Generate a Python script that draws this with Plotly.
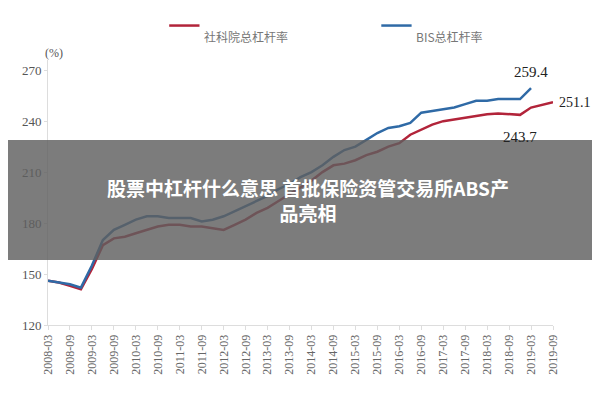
import plotly.graph_objects as go

dates_red = [f"{y}-{m:02d}" for y in range(2008, 2020) for m in (3, 6, 9, 12)][:47]
dates_blue = dates_red[:45]

red = [146, 145, 143, 141,
       153, 167, 171, 172,
       174, 176, 178, 179,
       179, 178, 178, 177,
       176, 179, 182, 186,
       189, 193, 197, 201,
       205, 210, 214, 215,
       217, 220, 222, 225,
       227, 232, 235, 238,
       240, 241, 242, 243,
       244, 244.5, 244, 243.7,
       248, 249.5, 251.1]
blue = [146, 145, 144, 142,
        155, 170, 176, 179,
        182, 184, 184, 183,
        183, 183, 181, 182,
        184, 187, 190, 193,
        196, 200, 203, 207,
        210, 214, 219, 223,
        225, 229, 233, 236,
        237, 239, 245, 246,
        247, 248, 250, 252,
        252, 253, 253, 253,
        259.4]
tick_labels = [f"{y}-{m:02d}" for y in range(2008, 2020) for m in (3, 9)]
names = ["社科院总杠杆率", "BIS总杠杆率"]
colors = ["#b2243a", "#2f6aa6"]

fig = go.Figure()
fig.add_trace(go.Scatter(x=dates_red, y=red, mode="lines", name=names[0],
                         line=dict(color=colors[0], width=2.5)))
fig.add_trace(go.Scatter(x=dates_blue, y=blue, mode="lines", name=names[1],
                         line=dict(color=colors[1], width=2.5)))

serif = "Liberation Serif"
fig.update_layout(
    width=600, height=400, margin=dict(l=40, r=55, t=52, b=83),
    plot_bgcolor="white", paper_bgcolor="white",
    font=dict(family=serif, color="#555", size=13),
    showlegend=False,
    xaxis=dict(type="category", categoryorder="array", categoryarray=dates_red,
               tickvals=tick_labels, ticktext=tick_labels, tickangle=-90,
               showgrid=False, showline=True, linecolor="#ddd", ticks="outside",
               tickcolor="#ddd", ticklen=4, range=[0, 46], automargin=False,
               tickfont=dict(size=12, color="#666")),
    yaxis=dict(range=[120, 276], tickvals=[120, 150, 180, 210, 240, 270],
               showgrid=False, showline=True, linecolor="#ddd", ticks="outside",
               tickcolor="#ddd", ticklen=3, automargin=False,
               tickfont=dict(size=13, color="#555")),
)

# manual legend in the top margin
for x0, name, color in zip([0.24, 0.66], names, colors):
    fig.add_shape(type="line", xref="paper", yref="paper", x0=x0, x1=x0 + 0.06,
                  y0=1.13, y1=1.13, line=dict(color=color, width=2.5))
    fig.add_annotation(xref="paper", yref="paper", x=x0 + 0.065, y=1.13,
                       text=name, showarrow=False, xanchor="left",
                       font=dict(family="Noto Sans CJK SC", size=12, color="#777"))

fig.add_annotation(text="(%)", xref="paper", yref="paper", x=-0.01, y=1.06,
                   showarrow=False, font=dict(size=12, color="#555"))
fig.add_annotation(x=dates_blue[-1], y=blue[-1], text=f"{blue[-1]}", showarrow=False,
                   yshift=16, font=dict(size=15, color="#222"))
fig.add_annotation(x=dates_red[-1], y=red[-1], text=f"{red[-1]}", showarrow=False,
                   xanchor="left", xshift=4, font=dict(size=14, color="#222"))
fig.add_annotation(x=dates_red[43], y=red[43], text=f"{red[43]}", showarrow=False,
                   yshift=-22, font=dict(size=15, color="#222"))

fig.add_shape(type="rect", xref="paper", yref="paper", x0=-0.3, x1=1.3,
              y0=0.245, y1=0.698, fillcolor="rgba(95,95,95,0.82)", line_width=0,
              layer="above")
fig.add_annotation(xref="paper", yref="paper", x=0.515, y=0.472, showarrow=False,
                   text="<b>股票中杠杆什么意思 首批保险资管交易所ABS产<br>品亮相</b>",
                   font=dict(family="Noto Sans CJK SC", size=19, color="white"),
                   align="center")

fig.write_html("out.html")
